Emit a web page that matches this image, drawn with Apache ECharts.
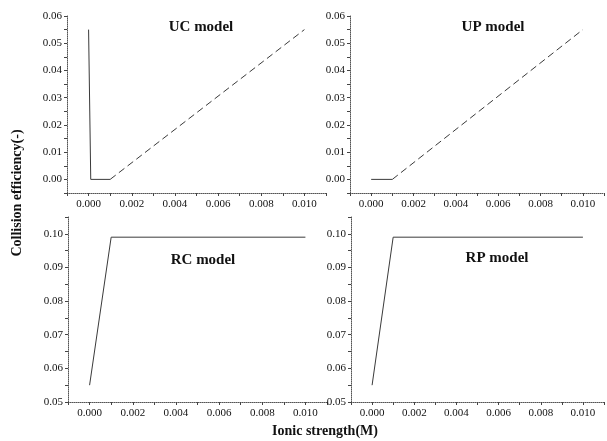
<!DOCTYPE html>
<html>
<head>
<meta charset="utf-8">
<title>Collision efficiency vs ionic strength</title>
<script src="https://cdn.jsdelivr.net/npm/echarts@6/dist/echarts.min.js"></script>
<style>
    html, body { margin: 0; padding: 0; background: #ffffff; }
    #main { width: 607px; height: 441px; }
</style>
</head>
<body>
<div id="main"></div>
<script>
// ionic strength (M) / collision efficiency (-)
var ucSolidX = [0.0000, 0.0001, 0.0010];
var ucSolidY = [0.055, 0.000, 0.000];
var ucDashX = [0.0010, 0.0100];
var ucDashY = [0.000, 0.055];

var upSolidX = [0.0000, 0.0010];
var upSolidY = [0.000, 0.000];
var upDashX = [0.0010, 0.0100];
var upDashY = [0.000, 0.055];

var rcX = [0.0000, 0.0010, 0.0100];
var rcY = [0.055, 0.099, 0.099];

var rpX = [0.0000, 0.0010, 0.0100];
var rpY = [0.055, 0.099, 0.099];

var panelNames = ['UC model', 'UP model', 'RC model', 'RP model'];

var FONT = "'Liberation Serif', 'Times New Roman', serif";
var INK = '#111';
var LINE = '#3a3a3a';

function pairs(xs, ys) {
    return xs.map(function(x, i) { return [x, ys[i]]; });
}

// 画布布局（像素）
var grids = [
    { left: 67, top: 16, width: 259, height: 177 },
    { left: 350, top: 16, width: 259, height: 177 },
    { left: 68, top: 217, width: 259, height: 185 },
    { left: 351, top: 217, width: 259, height: 185 }
];

function xAxis(idx) {
    return {
        type: 'value',
        gridIndex: idx,
        min: -0.001,
        max: 0.011,
        interval: 0.001,
        splitLine: { show: false },
        axisLine: { onZero: false, lineStyle: { color: '#555', width: 1, type: 'dotted' } },
        axisTick: {
            show: true, inside: false, length: 3,
            lineStyle: { color: '#444' }
        },
        axisLabel: {
            color: INK, fontFamily: FONT, fontSize: 11, margin: 6,
            formatter: function(v) {
                var k = Math.round(v * 1000);
                if (k < 0 || k > 10 || k % 2 !== 0) return '';
                return (k / 1000).toFixed(3);
            }
        }
    };
}

function yAxis(idx, min, max, top) {
    return {
        type: 'value',
        gridIndex: idx,
        min: min,
        max: max,
        interval: 0.005,
        splitLine: { show: false },
        axisLine: { onZero: false, lineStyle: { color: '#555', width: 1, type: 'dotted' } },
        axisTick: {
            show: true, inside: false, length: 3,
            lineStyle: { color: '#444' }
        },
        axisLabel: {
            color: INK, fontFamily: FONT, fontSize: 11, margin: 5,
            formatter: function(v) {
                var k = Math.round(v * 1000);
                if (k < 0 || k % 10 !== 0 || k > top * 1000) return '';
                return (k / 1000).toFixed(2);
            }
        }
    };
}

function line(idx, data, dashed) {
    return {
        type: 'line',
        xAxisIndex: idx,
        yAxisIndex: idx,
        data: data,
        showSymbol: false,
        symbol: 'none',
        silent: true,
        lineStyle: { color: LINE, width: 1, type: dashed ? [7, 4] : 'solid' }
    };
}

var chart = echarts.init(document.getElementById('main'));
chart.setOption({
    animation: false,
    backgroundColor: '#ffffff',
    grid: grids,
    xAxis: [xAxis(0), xAxis(1), xAxis(2), xAxis(3)],
    yAxis: [
        yAxis(0, -0.005, 0.06, 0.06),
        yAxis(1, -0.005, 0.06, 0.06),
        yAxis(2, 0.05, 0.105, 0.10),
        yAxis(3, 0.05, 0.105, 0.10)
    ],
    series: [
        line(0, pairs(ucSolidX, ucSolidY), false),
        line(0, pairs(ucDashX, ucDashY), true),
        line(1, pairs(upSolidX, upSolidY), false),
        line(1, pairs(upDashX, upDashY), true),
        line(2, pairs(rcX, rcY), false),
        line(3, pairs(rpX, rpY), false)
    ],
    graphic: [
        { type: 'text', x: 201, y: 27, style: { text: panelNames[0], font: 'bold 15px ' + FONT, fill: INK, align: 'center', verticalAlign: 'middle' } },
        { type: 'text', x: 493, y: 27, style: { text: panelNames[1], font: 'bold 15px ' + FONT, fill: INK, align: 'center', verticalAlign: 'middle' } },
        { type: 'text', x: 203, y: 260, style: { text: panelNames[2], font: 'bold 15px ' + FONT, fill: INK, align: 'center', verticalAlign: 'middle' } },
        { type: 'text', x: 497, y: 258, style: { text: panelNames[3], font: 'bold 15px ' + FONT, fill: INK, align: 'center', verticalAlign: 'middle' } },
        { type: 'text', x: 325, y: 431, style: { text: 'Ionic strength(M)', font: 'bold 14px ' + FONT, fill: INK, align: 'center', verticalAlign: 'middle' } },
        { type: 'text', x: 17, y: 193, rotation: Math.PI / 2, style: { text: 'Collision efficiency(-)', font: 'bold 14px ' + FONT, fill: INK, align: 'center', verticalAlign: 'middle' } }
    ]
});
</script>
</body>
</html>
